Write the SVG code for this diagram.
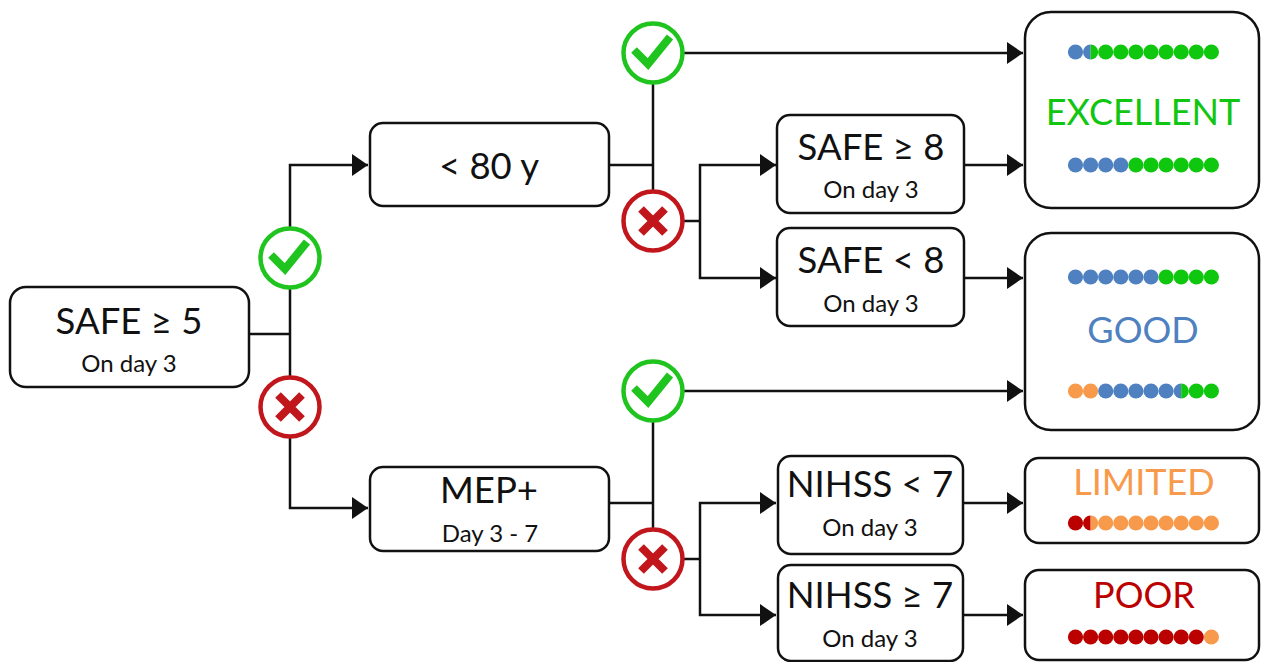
<svg xmlns="http://www.w3.org/2000/svg" xmlns:xlink="http://www.w3.org/1999/xlink" width="1262" height="662" viewBox="0 0 1262 662">
<style>
.box{fill:#fff;stroke:#111;stroke-width:2.5}
.t{font-family:Lato,"Open Sans","Liberation Sans",sans-serif;text-anchor:middle;fill:#111}
.main{font-size:36.5px}
.sub{font-size:24px}
.res{font-size:36px}
.con{fill:none;stroke:#111;stroke-width:2.5}
.g{fill:#0fc70f}
.b{fill:#4f81c0}
.o{fill:#f79a4c}
.r{fill:#bb0000}
</style>
<defs>
<marker id="arr" markerUnits="userSpaceOnUse" markerWidth="16" markerHeight="22" refX="16" refY="11" orient="auto">
<path d="M0,0 L16,11 L0,22 Z" fill="#111"/>
</marker>
<g id="chk">
<circle r="29.5" fill="#fff" stroke="#1fc41f" stroke-width="4.5"/>
<polyline points="-19,-3 -5,11 17,-16" fill="none" stroke="#1fc41f" stroke-width="8"/>
</g>
<g id="crs">
<circle r="29.5" fill="#fff" stroke="#c0161c" stroke-width="4.5"/>
<path d="M-12,-12 L12,12 M12,-12 L-12,12" fill="none" stroke="#c0161c" stroke-width="8"/>
</g>
<circle id="d" r="7.6"/>
<path id="hl" d="M0,-7.6 A7.6,7.6 0 0 0 0,7.6 Z"/>
<path id="hr" d="M0,-7.6 A7.6,7.6 0 0 1 0,7.6 Z"/>
</defs>

<g id="connectors">
<path class="con" d="M249,334 H290"/>
<path class="con" d="M290,334 V165 H368" marker-end="url(#arr)"/>
<path class="con" d="M290,334 V508 H368" marker-end="url(#arr)"/>
<path class="con" d="M609,165 H653"/>
<path class="con" d="M653,53 V221"/>
<path class="con" d="M653,53 H1023" marker-end="url(#arr)"/>
<path class="con" d="M653,221 H700"/>
<path class="con" d="M700,221 V165 H776" marker-end="url(#arr)"/>
<path class="con" d="M700,221 V278 H776" marker-end="url(#arr)"/>
<path class="con" d="M964,165 H1023" marker-end="url(#arr)"/>
<path class="con" d="M964,278 H1023" marker-end="url(#arr)"/>
<path class="con" d="M609,503 H653"/>
<path class="con" d="M653,391 V559"/>
<path class="con" d="M653,391 H1023" marker-end="url(#arr)"/>
<path class="con" d="M653,559 H700"/>
<path class="con" d="M700,559 V503 H776" marker-end="url(#arr)"/>
<path class="con" d="M700,559 V615 H776" marker-end="url(#arr)"/>
<path class="con" d="M963,503 H1023" marker-end="url(#arr)"/>
<path class="con" d="M963,615 H1023" marker-end="url(#arr)"/>
</g>

<g id="icons">
<g id="yes1"><use xlink:href="#chk" x="290" y="258"/></g>
<g id="no1"><use xlink:href="#crs" x="290" y="407"/></g>
<g id="yes2"><use xlink:href="#chk" x="653" y="53"/></g>
<g id="no2"><use xlink:href="#crs" x="653" y="221"/></g>
<g id="yes3"><use xlink:href="#chk" x="653" y="391"/></g>
<g id="no3"><use xlink:href="#crs" x="653" y="559"/></g>
</g>

<g id="safe5">
<rect class="box" x="10" y="287" width="239" height="100" rx="16"/>
<text class="t main" x="129" y="334">SAFE ≥ 5</text>
<text class="t sub" x="129" y="372">On day 3</text>
</g>
<g id="age80">
<rect class="box" x="370" y="123" width="239" height="83" rx="13"/>
<text class="t main" x="489" y="179">&lt; 80 y</text>
</g>
<g id="mep">
<rect class="box" x="370" y="467" width="239" height="84" rx="13"/>
<text class="t main" x="489" y="503">MEP+</text>
<text class="t sub" x="490" y="542">Day 3 - 7</text>
</g>
<g id="safe8hi">
<rect class="box" x="777" y="115" width="187" height="98" rx="13"/>
<text class="t main" x="871" y="160">SAFE ≥ 8</text>
<text class="t sub" x="871" y="198">On day 3</text>
</g>
<g id="safe8lo">
<rect class="box" x="777" y="228" width="187" height="98" rx="13"/>
<text class="t main" x="871" y="273">SAFE &lt; 8</text>
<text class="t sub" x="871" y="312">On day 3</text>
</g>
<g id="nihsslo">
<rect class="box" x="778" y="456" width="185" height="98" rx="13"/>
<text class="t main" x="870" y="497">NIHSS &lt; 7</text>
<text class="t sub" x="870" y="536">On day 3</text>
</g>
<g id="nihsshi">
<rect class="box" x="778" y="565" width="185" height="96" rx="13"/>
<text class="t main" x="870" y="608">NIHSS ≥ 7</text>
<text class="t sub" x="870" y="647">On day 3</text>
</g>

<g id="excellent">
<rect class="box" x="1025" y="12" width="234" height="196" rx="26"/>
<text class="t res" x="1143" y="125" style="fill:#11c611">EXCELLENT</text>
<g transform="translate(0,52)">
<use xlink:href="#d" class="b" x="1075.5"/>
<use xlink:href="#hl" class="b" x="1090.6"/><use xlink:href="#hr" class="g" x="1090.6"/>
<use xlink:href="#d" class="g" x="1105.7"/><use xlink:href="#d" class="g" x="1120.8"/>
<use xlink:href="#d" class="g" x="1135.9"/><use xlink:href="#d" class="g" x="1151"/>
<use xlink:href="#d" class="g" x="1166.1"/><use xlink:href="#d" class="g" x="1181.2"/>
<use xlink:href="#d" class="g" x="1196.3"/><use xlink:href="#d" class="g" x="1211.4"/>
</g>
<g transform="translate(0,165)">
<use xlink:href="#d" class="b" x="1075.5"/><use xlink:href="#d" class="b" x="1090.6"/>
<use xlink:href="#d" class="b" x="1105.7"/><use xlink:href="#d" class="b" x="1120.8"/>
<use xlink:href="#d" class="g" x="1135.9"/><use xlink:href="#d" class="g" x="1151"/>
<use xlink:href="#d" class="g" x="1166.1"/><use xlink:href="#d" class="g" x="1181.2"/>
<use xlink:href="#d" class="g" x="1196.3"/><use xlink:href="#d" class="g" x="1211.4"/>
</g>
</g>

<g id="good">
<rect class="box" x="1025" y="233" width="234" height="197" rx="26"/>
<text class="t res" x="1143" y="343" style="fill:#4f81c0">GOOD</text>
<g transform="translate(0,277)">
<use xlink:href="#d" class="b" x="1075.5"/><use xlink:href="#d" class="b" x="1090.6"/>
<use xlink:href="#d" class="b" x="1105.7"/><use xlink:href="#d" class="b" x="1120.8"/>
<use xlink:href="#d" class="b" x="1135.9"/><use xlink:href="#d" class="b" x="1151"/>
<use xlink:href="#d" class="g" x="1166.1"/><use xlink:href="#d" class="g" x="1181.2"/>
<use xlink:href="#d" class="g" x="1196.3"/><use xlink:href="#d" class="g" x="1211.4"/>
</g>
<g transform="translate(0,391)">
<use xlink:href="#d" class="o" x="1075.5"/><use xlink:href="#d" class="o" x="1090.6"/>
<use xlink:href="#d" class="b" x="1105.7"/><use xlink:href="#d" class="b" x="1120.8"/>
<use xlink:href="#d" class="b" x="1135.9"/><use xlink:href="#d" class="b" x="1151"/>
<use xlink:href="#d" class="b" x="1166.1"/>
<use xlink:href="#hl" class="b" x="1181.2"/><use xlink:href="#hr" class="g" x="1181.2"/>
<use xlink:href="#d" class="g" x="1196.3"/><use xlink:href="#d" class="g" x="1211.4"/>
</g>
</g>

<g id="limited">
<rect class="box" x="1025" y="458" width="234" height="85" rx="14"/>
<text class="t res" x="1144" y="495" style="fill:#f79a4c">LIMITED</text>
<g transform="translate(0,523)">
<use xlink:href="#d" class="r" x="1075.5"/>
<use xlink:href="#hl" class="r" x="1090.6"/><use xlink:href="#hr" class="o" x="1090.6"/>
<use xlink:href="#d" class="o" x="1105.7"/><use xlink:href="#d" class="o" x="1120.8"/>
<use xlink:href="#d" class="o" x="1135.9"/><use xlink:href="#d" class="o" x="1151"/>
<use xlink:href="#d" class="o" x="1166.1"/><use xlink:href="#d" class="o" x="1181.2"/>
<use xlink:href="#d" class="o" x="1196.3"/><use xlink:href="#d" class="o" x="1211.4"/>
</g>
</g>

<g id="poor">
<rect class="box" x="1025" y="570" width="234" height="90" rx="14"/>
<text class="t res" x="1144" y="608" style="fill:#bb0000">POOR</text>
<g transform="translate(0,637)">
<use xlink:href="#d" class="r" x="1075.5"/><use xlink:href="#d" class="r" x="1090.6"/>
<use xlink:href="#d" class="r" x="1105.7"/><use xlink:href="#d" class="r" x="1120.8"/>
<use xlink:href="#d" class="r" x="1135.9"/><use xlink:href="#d" class="r" x="1151"/>
<use xlink:href="#d" class="r" x="1166.1"/><use xlink:href="#d" class="r" x="1181.2"/>
<use xlink:href="#d" class="r" x="1196.3"/><use xlink:href="#d" class="o" x="1211.4"/>
</g>
</g>
</svg>
